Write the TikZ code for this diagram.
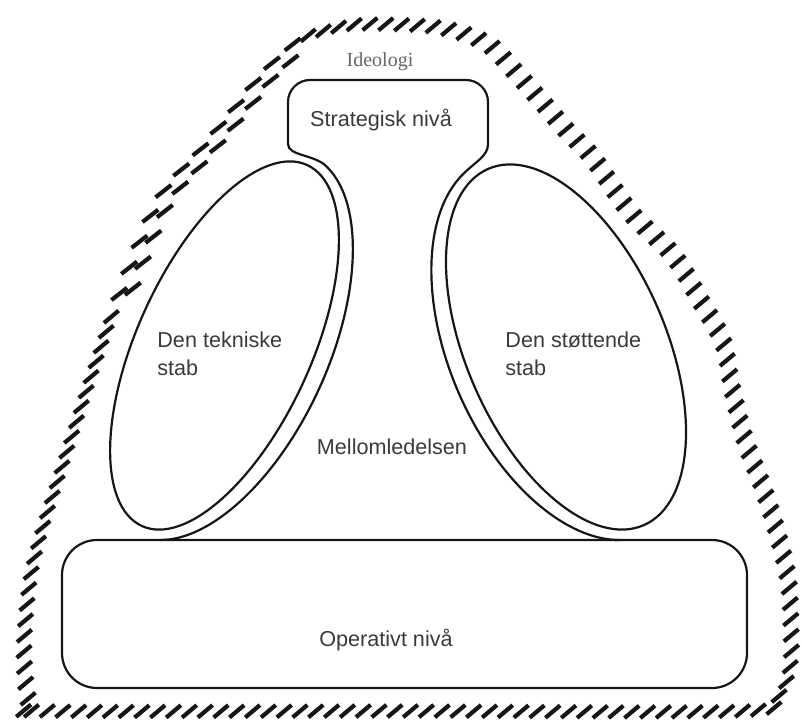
\documentclass[tikz,border=0pt]{standalone}
\usepackage{fontspec}
\setmainfont{Liberation Sans}
\newfontfamily\serifface{Liberation Serif}
\usetikzlibrary{decorations.markings}
\definecolor{orgInk}{HTML}{161616}
\definecolor{orgText}{HTML}{3A3A3A}
\definecolor{orgGrey}{HTML}{666666}

\begin{document}
\begin{tikzpicture}[
  x=0.5pt, y=0.5pt,
  lbl/.style={font=\fontsize{10.8}{14}\selectfont, text=orgText, inner sep=0pt},
  part/.style={draw=orgInk, line width=1.1pt},
  hatchband/.style={decorate, decoration={markings,
      mark=between positions 0.004 and 0.996 step 7.9pt with {%
        \pgftransformresetnontranslations
        \draw[orgInk, line width=2.1pt] (220:4.8pt) -- (40:4.8pt);}}},
  dashrow/.style={decorate, decoration={markings,
      mark=between positions #1 and 0.99 step 14pt with {%
        \pgftransformresetnontranslations
        \draw[orgInk, line width=2.1pt] (218:5pt) -- (38:5pt);}}},
]
\useasboundingbox (0,0) rectangle (802,724);

% ============================ ideology band ==================================
% Dense hatch all round, except the upper left where it splits into two rows.
\path[hatchband] plot[smooth, tension=0.55] coordinates {
  (300,686) (350,699) (410,699) (442,696) (468,689) (492,677) (518,649)
  (542,622) (568,592) (593,566) (630,512) (673,469) (700,424) (723,382)
  (732,336) (745,284) (762,239) (775,199) (788,146) (791,96) (790,56)
  (777,26) (740,13) (400,13) (50,13) (30,19) (24,74) (30,144) (42,194)
  (62,257) (90,344) (117,424)};
\path[dashrow=0.02] plot[smooth, tension=0.55] coordinates {
  (117,424) (158,524) (200,574) (237,619) (265,654) (300,686)};
\path[dashrow=0.06, shift={(9,-7)}] plot[smooth, tension=0.55] coordinates {
  (117,424) (158,524) (200,574) (237,619) (265,654) (300,686)};

% ============================ the two staffs =================================
% Each staff is a tilted ellipse; the middle line runs just inside it.
\begin{scope}[shift={(224.5,378.5)}, rotate=65.4]
  \draw[part] (0,0) ellipse [x radius=198.5, y radius=87];
  \draw[part] (-10:208.5 and 104) coordinate (ltop)
    arc[start angle=-10, end angle=-167.1, x radius=208.5, y radius=104];
\end{scope}
\begin{scope}[shift={(566,377)}, rotate=113.6]
  \draw[part] (0,0) ellipse [x radius=194.4, y radius=99.7];
  \draw[part] (12:204.4 and 116.7) coordinate (rtop)
    arc[start angle=12, end angle=166.0, x radius=204.4, y radius=116.7];
\end{scope}

% ====================== strategic apex and its neck ==========================
\draw[part] (ltop) .. controls +(-12,12) and +(0,-12) .. (288,580) -- (288,622)
  arc[start angle=180, end angle=90, radius=22] -- (466,644)
  arc[start angle=90, end angle=0, radius=22] -- (488,580)
  .. controls +(0,-12) and +(12,12) .. (rtop);

% ============================ operating core =================================
\draw[part, rounded corners=17.5pt] (62,36) rectangle (747,184);

% ================================ labels =====================================
\node[lbl, font=\serifface\fontsize{10}{12}\selectfont, text=orgGrey] (ideo) at (380,662) {Ideologi};
\node[lbl] (apex) at (381,604) {Strategisk nivå};
\node[lbl, anchor=west, align=left] (techno) at (157,370) {Den tekniske\\stab};
\node[lbl, anchor=west, align=left] (support) at (505,370) {Den støttende\\stab};
\node[lbl] (middle) at (392,277) {Mellomledelsen};
\node[lbl] (core) at (386,84) {Operativt nivå};
\end{tikzpicture}
\end{document}
